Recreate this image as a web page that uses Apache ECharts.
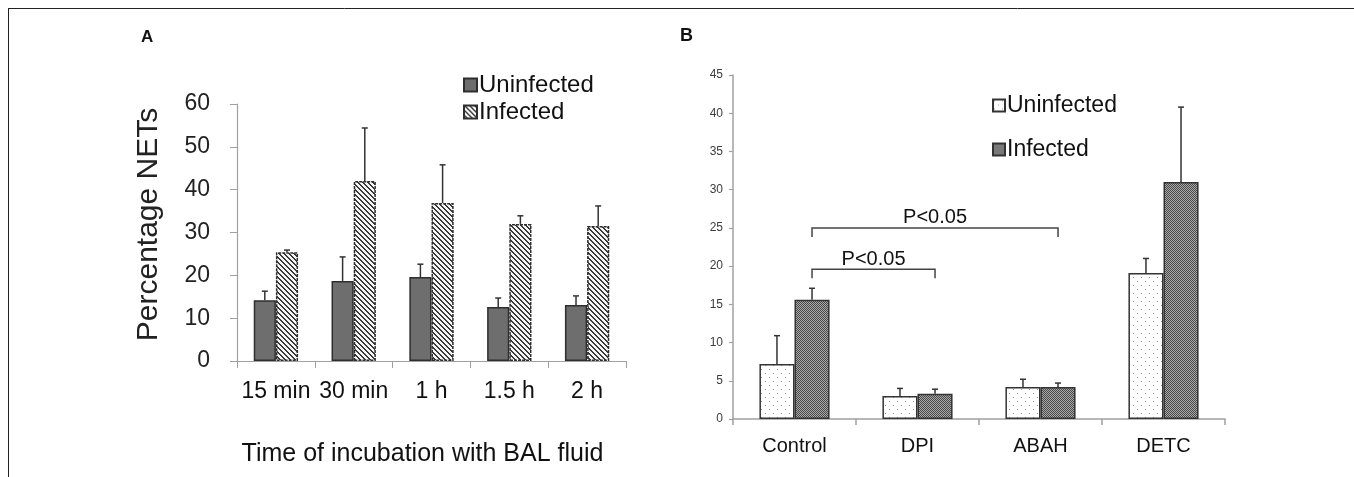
<!DOCTYPE html>
<html><head><meta charset="utf-8">
<script src="https://cdn.jsdelivr.net/npm/echarts@6/dist/echarts.min.js"></script>
<style>html,body{margin:0;padding:0;background:#fff}#c{width:1354px;height:477px}</style>
</head><body><div id="c"></div>
<script>
// ---- Data ----
const catsA = ['15 min', '30 min', '1 h', '1.5 h', '2 h'];
const uninfA = [14.2, 18.7, 19.6, 12.6, 13.1];
const uninfAErr = [2.1, 5.6, 3.0, 2.1, 2.1];
const infA = [25.4, 42.0, 36.9, 32.0, 31.5];
const infAErr = [0.5, 12.4, 8.9, 1.9, 4.7];

const catsB = ['Control', 'DPI', 'ABAH', 'DETC'];
const uninfB = [7.2, 3.0, 4.2, 19.1];
const uninfBErr = [3.7, 1.0, 1.0, 1.9];
const infB = [15.6, 3.3, 4.2, 31.0];
const infBErr = [1.5, 0.6, 0.5, 9.8];

const bracketFrom = [0, 0];
const bracketTo = [1, 2];
const bracketLevel = [19.6, 25.0];
const bracketLabels = ['P<0.05', 'P<0.05'];

const ticksA = {min: 0, max: 60, interval: 10};
const ticksB = {min: 0, max: 45, interval: 5};

// ---- Patterns ----
function makeCanvas(w, h, draw) {
  const c = document.createElement('canvas'); c.width = w; c.height = h;
  const ctx = c.getContext('2d'); draw(ctx); return c;
}
const hatch = makeCanvas(5, 5, ctx => {
  ctx.fillStyle = '#f6f6f6'; ctx.fillRect(0, 0, 5, 5);
  ctx.fillStyle = '#3a3a3a';
  for (let i = 0; i < 5; i++) { ctx.fillRect(i, i, 1, 1); ctx.fillRect((i + 1) % 5, i, 1, 1); }
});
const dots = makeCanvas(8, 8, ctx => {
  ctx.fillStyle = '#ffffff'; ctx.fillRect(0, 0, 8, 8);
  ctx.fillStyle = '#9a9a9a'; ctx.fillRect(1, 1, 1, 1); ctx.fillRect(5, 5, 1, 1);
});
const checker = makeCanvas(2, 2, ctx => {
  ctx.fillStyle = '#a8a8a8'; ctx.fillRect(0, 0, 2, 2);
  ctx.fillStyle = '#4a4a4a'; ctx.fillRect(0, 0, 1, 1); ctx.fillRect(1, 1, 1, 1);
});

const GAP = 0.43;
const FONT = "'Liberation Sans', Arial, sans-serif";

function errRender(side) {
  return function (params, api) {
    const i = api.value(0), m = api.value(1), e = api.value(2);
    const b = api.coord([i, m]), t = api.coord([i, m + e]);
    const band = api.size([1, 0])[0];
    const bw = band * (1 - GAP) / 2;
    const x = b[0] + (side - 0.5) * bw;
    const st = {stroke: '#333', lineWidth: 1.5};
    return {type: 'group', children: [
      {type: 'line', shape: {x1: x, y1: b[1], x2: x, y2: t[1]}, style: st},
      {type: 'line', shape: {x1: x - 3, y1: t[1], x2: x + 3, y2: t[1]}, style: st}
    ]};
  };
}
function errSeries(name, xi, means, errs, side) {
  return {type: 'custom', name: name, xAxisIndex: xi, yAxisIndex: xi, z: 5,
    renderItem: errRender(side), encode: {x: 0, y: 1},
    data: means.map((m, i) => [i, m, errs[i]]), silent: true};
}

const chart = echarts.init(document.getElementById('c'), null, {renderer: 'canvas'});
const option = {
  animation: false,
  textStyle: {fontFamily: FONT},
  grid: [
    {left: 237, top: 104, width: 389, height: 257, outerBoundsMode: 'none'},
    {left: 733, top: 75, width: 492, height: 344, outerBoundsMode: 'none'}
  ],
  legend: [
    {left: 458, top: 68, orient: 'vertical', icon: 'rect', itemWidth: 13, itemHeight: 13, itemGap: 3,
      data: ['Uninfected', 'Infected'], textStyle: {fontSize: 24, color: '#111', padding: [0, 0, 0, -3]}},
    {left: 987, top: 89, orient: 'vertical', icon: 'rect', itemWidth: 12, itemHeight: 12, itemGap: 21,
      data: ['B_Uninfected', 'B_Infected'], formatter: n => n.replace('B_', ''),
      textStyle: {fontSize: 23, color: '#111', padding: [0, 0, 0, -3]}}
  ],
  xAxis: [
    {type: 'category', gridIndex: 0, data: catsA,
      axisLine: {lineStyle: {color: '#a0a0a0', width: 1.2}},
      axisTick: {show: true, length: 7, lineStyle: {color: '#a0a0a0'}},
      axisLabel: {fontSize: 23, color: '#111', margin: 19, interval: 0},
      name: 'Time of incubation with BAL fluid', nameLocation: 'middle', nameGap: 81,
      nameTextStyle: {fontSize: 25, color: '#111', padding: [0, 18, 0, 0]}},
    {type: 'category', gridIndex: 1, data: catsB,
      axisLine: {lineStyle: {color: '#a0a0a0', width: 1.5}},
      axisTick: {show: true, length: 6, lineStyle: {color: '#a0a0a0', width: 1.5}},
      axisLabel: {fontSize: 20, color: '#111', margin: 17, interval: 0}}
  ],
  yAxis: [
    {type: 'value', gridIndex: 0, min: ticksA.min, max: ticksA.max, interval: ticksA.interval,
      splitLine: {show: false},
      axisLine: {show: true, lineStyle: {color: '#a0a0a0', width: 1.2}},
      axisTick: {show: true, length: 7, lineStyle: {color: '#a0a0a0'}},
      axisLabel: {fontSize: 23, color: '#222', margin: 27},
      name: 'Percentage NETs', nameLocation: 'middle', nameGap: 73,
      nameTextStyle: {fontSize: 30, color: '#222', padding: [0, 0, 0, 16]}},
    {type: 'value', gridIndex: 1, min: ticksB.min, max: ticksB.max, interval: ticksB.interval,
      splitLine: {show: false},
      axisLine: {show: true, lineStyle: {color: '#a0a0a0', width: 1.5}},
      axisTick: {show: true, length: 4, lineStyle: {color: '#a0a0a0', width: 1.2}},
      axisLabel: {fontSize: 12, color: '#3c3c3c', margin: 10}}
  ],
  series: [
    {type: 'bar', name: 'Uninfected', xAxisIndex: 0, yAxisIndex: 0, data: uninfA,
      barGap: '0%', barCategoryGap: (GAP * 100) + '%',
      itemStyle: {color: '#6e6e6e', borderColor: '#2e2e2e', borderWidth: 1.5}},
    {type: 'bar', name: 'Infected', xAxisIndex: 0, yAxisIndex: 0, data: infA,
      barGap: '0%', barCategoryGap: (GAP * 100) + '%',
      itemStyle: {color: {image: hatch, repeat: 'repeat'}, borderColor: '#2e2e2e', borderWidth: 1.5, borderType: [3, 1]}},
    errSeries('errA0', 0, uninfA, uninfAErr, 0),
    errSeries('errA1', 0, infA, infAErr, 1),
    {type: 'bar', name: 'B_Uninfected', xAxisIndex: 1, yAxisIndex: 1, data: uninfB,
      barGap: '0%', barCategoryGap: (GAP * 100) + '%',
      itemStyle: {color: {image: dots, repeat: 'repeat'}, borderColor: '#333', borderWidth: 1.5}},
    {type: 'bar', name: 'B_Infected', xAxisIndex: 1, yAxisIndex: 1, data: infB,
      barGap: '0%', barCategoryGap: (GAP * 100) + '%',
      itemStyle: {color: {image: checker, repeat: 'repeat'}, borderColor: '#333', borderWidth: 1.5}},
    errSeries('errB0', 1, uninfB, uninfBErr, 0),
    errSeries('errB1', 1, infB, infBErr, 1),
    {type: 'custom', name: 'brackets', xAxisIndex: 1, yAxisIndex: 1, z: 6, silent: true,
      encode: {x: [0, 1], y: 2},
      data: bracketFrom.map((f, i) => [f, bracketTo[i], bracketLevel[i]]),
      renderItem: function (params, api) {
        const f = api.value(0), t = api.value(1), lv = api.value(2);
        const band = api.size([1, 0])[0];
        const bw = band * (1 - GAP) / 2;
        const p1 = api.coord([f, lv]), p2 = api.coord([t, lv]);
        const x1 = p1[0] + bw / 2, x2 = p2[0] + bw / 2, y = p1[1];
        const drop = api.size([0, 1.2])[1];
        const st = {stroke: '#444', lineWidth: 1.5, fill: null};
        return {type: 'group', children: [
          {type: 'polyline', shape: {points: [[x1, y + drop], [x1, y], [x2, y], [x2, y + drop]]}, style: st},
          {type: 'text', style: {text: bracketLabels[params.dataIndex], x: (x1 + x2) / 2, y: y - 10,
            align: 'center', verticalAlign: 'middle', font: '20px ' + FONT, fill: '#111'}}
        ]};
      }}
  ],
  graphic: [
    {type: 'line', shape: {x1: 8, y1: 8.5, x2: 1354, y2: 8.5}, style: {stroke: '#222', lineWidth: 1}},
    {type: 'line', shape: {x1: 8.5, y1: 8, x2: 8.5, y2: 477}, style: {stroke: '#222', lineWidth: 1}},
    {type: 'text', left: 141, top: 29, style: {text: 'A', font: 'bold 17px ' + FONT, fill: '#111'}},
    {type: 'text', left: 680, top: 27, style: {text: 'B', font: 'bold 18px ' + FONT, fill: '#111'}}
  ]
};
chart.setOption(option);
</script></body></html>
